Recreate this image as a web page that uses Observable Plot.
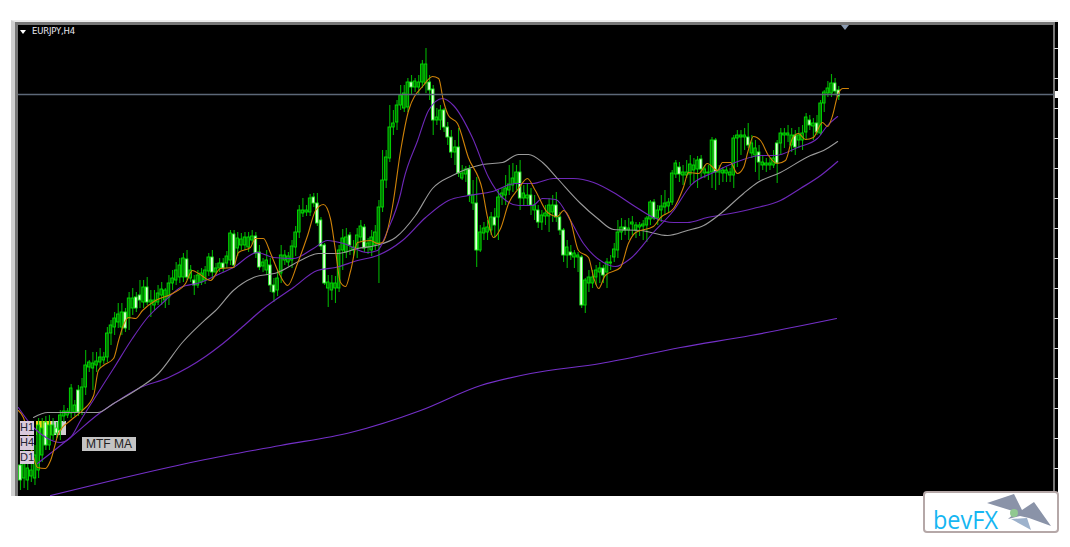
<!DOCTYPE html>
<html><head><meta charset="utf-8">
<script src="https://cdn.jsdelivr.net/npm/d3@7"></script>
<script src="https://cdn.jsdelivr.net/npm/@observablehq/plot@0.6"></script>
<style>
html,body{margin:0;padding:0;background:#fff;width:1070px;height:547px;overflow:hidden}
#page{position:relative;width:1070px;height:547px;font-family:"Liberation Sans",sans-serif}
#page>div,#page>svg{position:absolute}
#chart{left:0;top:0;z-index:3}
#chart svg{background:transparent;display:block}
#edge{left:11px;top:20px;width:1047px;height:476px;background:#000;box-sizing:border-box;
 border-left:4px solid #d0d0d0;border-top:2px solid #ececec}
#inner{left:15px;top:22px;width:1040px;height:474px;box-sizing:border-box;border-left:3px solid #777;border-top:3px solid #777;border-right:2px solid #777;z-index:1}
.lab{z-index:4;background:#d9c9dc;color:#223;font-size:11px;line-height:13px;text-align:center;width:14px;box-sizing:border-box;left:20px}
#yel{left:36px;top:421px;width:15px;height:14px;background:#f2d21a;z-index:2}
#gry{left:51px;top:421px;width:15px;height:14px;background:#cfcfcf;z-index:2}
#mtf{left:82px;top:437px;width:54px;height:14px;background:#c4c4c4;color:#222;font-size:12px;line-height:14px;text-align:center;z-index:4}
#sym{left:32px;top:26px;color:#e8e8f0;font-size:8.5px;line-height:11px;font-family:"DejaVu Sans",sans-serif;letter-spacing:-.2px;z-index:4}
#tri{left:20px;top:30px;width:0;height:0;border-left:3.5px solid transparent;border-right:3.5px solid transparent;border-top:4px solid #fff;z-index:4}
#shift{left:841px;top:25px;width:0;height:0;border-left:4.5px solid transparent;border-right:4.5px solid transparent;border-top:5px solid #8a9ab0;z-index:4}
#mark{left:1055px;top:91px;width:3px;height:7px;background:#fff;z-index:4}
#logo{left:920px;top:488px;z-index:5}
</style></head><body>
<div id="page">
<div id="edge"></div><div id="inner"></div>
<div class="lab" style="top:421px;height:14px">H1</div>
<div class="lab" style="top:436px;height:14px">H4</div>
<div class="lab" style="top:451px;height:13px">D1</div>
<div id="yel"></div><div id="gry"></div>
<div id="mtf">MTF MA</div>
<div id="tri"></div><div id="sym">EURJPY,H4</div>
<div id="shift"></div><div id="mark"></div>
<div id="chart"></div>
<svg id="logo" width="142" height="48" viewBox="0 0 142 48">
<rect x="4" y="4" width="134" height="40" rx="3" fill="#fff" stroke="#b5a8a8" stroke-width="2"/>
<text x="13" y="41" font-family="Open Sans, sans-serif" font-size="25" fill="#16b6f2" textLength="65" lengthAdjust="spacingAndGlyphs">bevFX</text>
<path d="M67 15 L94 6 L102 22 L114 14 L131 38 L109 30 L100 28 L88 31 L96 24 Z" fill="#8a93a8"/>
<path d="M91 31 L107 30 L111 42 Z" fill="#9db2cc"/>
<circle cx="94" cy="25" r="4" fill="#90c890"/>
</svg>
</div>
<script>
// Candles, in chart points above the chart floor (one bar per 4 hours)
const bodyHigh=[35,38,32,30,45,75,72,78,75,75,72,85,89,89,112,95,110,113,135,138,137,139,143,143,167,175,182,186,188,188,202,202,203,205,213,213,200,200,207,211,210,217,222,230,235,242,241,230,220,225,227,230,243,243,232,237,237,244,267,266,262,261,263,263,264,264,248,238,240,235,215,222,245,245,244,254,268,290,290,290,302,303,297,280,255,218,217,217,250,262,263,265,253,265,274,273,257,263,268,293,320,343,373,377,395,405,407,418,418,419,418,436,436,418,411,383,390,390,373,363,353,353,327,331,331,305,297,268,272,273,283,283,303,307,312,316,322,328,328,307,305,305,295,290,285,287,295,295,295,283,270,253,248,247,245,243,220,223,223,230,232,232,238,238,251,268,273,273,272,278,275,275,276,282,298,298,290,294,297,298,327,337,333,328,328,336,335,340,341,331,328,360,360,330,330,330,328,362,365,365,365,363,357,352,348,338,337,337,342,357,367,367,367,365,365,365,367,383,380,377,377,397,408,412,417,417,410];
const bodyLow=[20,22,20,24,22,30,45,55,55,65,67,70,84,85,87,88,88,90,113,133,132,135,138,140,143,167,173,178,173,172,182,192,192,200,198,198,198,195,198,205,200,203,217,220,223,223,223,222,215,215,218,220,229,228,228,232,232,237,240,235,252,255,255,253,260,247,233,234,230,215,208,210,227,240,238,240,253,268,287,288,288,297,277,254,217,212,210,212,212,250,248,255,250,252,263,252,253,250,255,257,293,320,342,373,378,395,392,393,413,413,413,418,417,410,380,380,380,373,363,348,348,327,322,326,305,297,250,250,267,268,270,275,283,303,305,310,315,317,302,302,302,295,290,278,278,284,284,288,283,270,245,245,245,243,243,195,195,217,217,223,228,225,228,237,243,250,268,270,270,276,270,273,274,275,281,282,282,290,293,294,298,326,326,325,325,326,330,331,331,327,327,328,328,328,327,327,325,325,362,363,363,355,347,345,338,335,335,335,335,337,357,365,365,355,353,360,360,368,375,374,368,367,397,407,407,409,404];
const high=[45,55,42,50,55,82,82,84,85,82,78,90,95,92,116,100,115,122,150,140,148,148,152,148,173,180,188,197,197,192,208,212,208,220,220,223,210,210,215,218,212,225,230,238,242,247,250,235,225,230,232,234,247,250,237,242,242,249,270,270,268,267,268,268,270,268,255,242,250,242,222,230,255,250,248,260,274,295,302,295,306,307,307,283,257,225,225,224,255,271,272,268,260,272,280,276,262,270,275,300,350,350,395,390,400,415,415,422,425,422,425,440,452,425,415,392,395,392,378,370,360,372,335,334,335,320,323,275,278,280,288,292,310,312,325,335,337,335,340,315,317,312,305,295,290,295,302,305,308,288,272,260,255,250,248,245,222,230,230,235,238,235,242,245,257,280,282,280,282,284,278,278,280,284,300,301,295,305,310,302,330,340,338,335,340,345,342,344,345,335,335,363,362,335,333,333,332,365,370,370,372,377,365,360,355,345,342,342,350,360,372,372,375,372,370,373,375,387,385,382,385,400,410,419,426,422,414];
const low=[10,12,10,18,15,22,38,50,50,60,62,60,78,82,82,84,84,85,105,128,110,128,132,136,138,155,165,172,165,168,170,185,188,192,192,195,183,190,195,195,192,195,210,215,217,218,220,218,205,212,215,216,224,220,225,228,228,232,235,232,244,250,250,248,256,242,230,228,225,208,198,204,217,235,234,232,244,262,283,284,284,293,274,250,215,193,200,197,208,230,242,245,244,242,258,248,246,244,250,217,288,312,338,365,370,390,388,388,405,408,405,412,407,400,365,375,370,368,355,342,335,323,320,318,298,290,233,248,260,260,265,262,260,295,295,305,308,310,290,295,295,285,280,272,270,275,268,278,278,265,238,232,240,232,228,192,187,208,212,215,217,217,212,230,238,242,260,265,260,265,262,264,260,258,275,280,275,278,285,288,295,322,318,315,322,315,318,312,322,322,320,312,310,315,318,318,318,312,333,345,350,352,342,328,320,330,328,330,332,317,345,352,358,348,345,352,350,360,370,360,365,365,388,403,403,405,400];
const bearBars=[0,7,10,16,29,32,33,35,46,48,53,56,59,65,66,69,70,81,82,83,84,91,95,108,113,114,117,118,119,121,124,126,131,138,141,143,148,149,150,152,155,161,167,175,182,188,192,201,204,209,214,218,220,225,226];

// Moving averages: bar positions and levels
const orangeBar=[-0.6,0.8,2.8,4.7,6.9,8.3,10.5,13.8,17.1,20.2,21.5,22.9,25.7,27.1,28.4,29.8,31.8,33.7,37.3,42,45.6,47.5,49.2,52.5,55.2,58.8,60.2,63.5,64.9,67.1,69.1,71.3,73.8,76.5,79.3,81.5,83.7,85.6,87,88.4,89.8,91.2,93.1,96.7,98.6,100,102.7,105,107.2,111.3,113.8,115.5,116.8,118.2,120.7,123.7,127.6,129,130.6,132.6,134.8,137.6,140,142.2,145.6,148.3,150,151.9,154.1,156.9,158.3,159.7,161.5,165.7,167.9,169.9,174.8,176.8,180.4,183.1,184.5,187.3,189.7,192.5,193.9,196.1,198,199.7,201,202.4,204.4,206.6,209,211.3,213.2,214.9,216.8,219,221.5,222.9,224.3,225.7,227.1,228.7];
const orangeLevel=[90,83,55,33,32,40,67,80,90,105,130,135,142,160,175,183,182,190,200,207,217,230,227,220,232,233,248,253,262,262,247,228,215,237,265,290,296,282,250,218,214,230,258,260,257,258,293,350,390,415,424,422,400,385,377,343,310,283,263,272,297,312,322,310,288,284,290,280,250,243,223,212,225,233,257,268,274,283,292,313,328,327,337,330,338,338,327,333,350,364,360,345,337,340,362,367,361,363,378,374,385,405,412,412];
const fastBar=[-0.6,3.6,7.5,11,13.8,16.6,21.3,25.7,30.9,35.1,40,44.2,49.7,55.2,58.8,65.4,69.9,75.4,80.9,84.8,89.2,95.8,98.6,101.4,105,105.8,109.7,112.7,116.6,119.6,124.8,129.3,133.1,137.6,141.4,144.2,147.8,151.9,155.5,161,164.3,168.5,174.8,180.4,185.1,191.4,198.9,204.4,208.5,214.6,220.1,222.9,225.7];
const fastLevel=[93,73,62,58,63,80,107,132,162,183,200,213,218,227,233,248,243,242,252,260,257,248,250,270,307,320,360,390,402,395,363,323,303,295,295,302,301,280,257,238,234,242,268,290,315,328,340,345,345,353,362,375,384];
const grayBar=[3.6,7.5,11,21.3,25.7,32.6,38.1,44.7,51.1,53.9,58.8,64.4,71,77.3,82.3,87.6,93.1,98.1,103.6,109.1,113.8,119.3,123.7,127.6,133.1,137.6,140.3,144.2,148.3,154.7,159.4,163.8,171.3,178.7,184.2,188.7,193.4,199.7,203.6,209.9,218.2,221.8,225.7];
const grayLevel=[83,88,88,88,97,112,127,158,181,190,210,223,228,240,247,247,252,255,263,285,312,325,332,336,338,346,346,338,322,297,282,271,270,265,270,275,287,307,318,328,345,350,359];
const slowBar=[4.7,13.8,22.1,26.2,32.6,40.9,51.1,55.2,60.8,66.8,75.4,82,87,93.1,98.6,105.5,111.9,118.2,123.7,130.4,136.7,141.4,147.2,152.7,158.3,163.8,169.3,174.8,180.4,184.2,189.7,196.1,202.4,209.9,215.4,221,225.7];
const slowLevel=[37,63,88,98,112,123,144,155,172,191,213,230,233,240,245,260,283,300,305,309,317,317,322,322,318,308,295,283,278,278,283,287,292,300,312,325,339];
const longBar=[8.3,27.6,49.7,71.8,91.2,110.5,127.1,140.9,160.2,182.3,201.7,225.4];
const longLevel=[5,22,40,55,68,90,115,127,137,153,165,182];
const priceLine=[406];
const gridLevels=[452,422,392,362,332,302,272,242,212,182,152,122,92,62,32];

const bars=high.map((h,i)=>{const bear=bearBars.includes(i);return {i,high:h,low:low[i],open:bear?bodyHigh[i]:bodyLow[i],close:bear?bodyLow[i]:bodyHigh[i],bear};});
const series=(b,v)=>b.map((x,k)=>({x,y:v[k]}));
const line=(b,v,stroke,strokeWidth=1.1)=>Plot.line(series(b,v),{x:"x",y:"y",stroke,strokeWidth,curve:"monotone-x",clip:true});

const plot=Plot.plot({
  width:1070,height:547,marginLeft:18,marginRight:12,marginTop:25,marginBottom:51,
  style:{background:"transparent",overflow:"visible"},
  x:{domain:[-0.55,286.7],axis:null},
  y:{domain:[4,475],axis:null},
  marks:[
    Plot.ruleX(bars,{x:"i",y1:"low",y2:"high",stroke:"#00b000",strokeWidth:1.1}),
    Plot.rect(bars,{x1:d=>d.i-0.36,x2:d=>d.i+0.36,y1:"open",y2:"close",fill:d=>d.bear?"#e8ffe0":"#007000",stroke:d=>d.bear?"#22f022":"#00e000",strokeWidth:0.9}),
    line(longBar,longLevel,"#7430c8",1.2),
    line(slowBar,slowLevel,"#6e28b8",1.2),
    line(grayBar,grayLevel,"#9a9a9a",1.1),
    line(fastBar,fastLevel,"#6e28b8",1.1),
    line(orangeBar,orangeLevel,"#cf8208",1.1),
    Plot.ruleY(priceLine,{x1:-0.55,x2:285.6,stroke:"#5c6878",strokeWidth:1.3}),
    Plot.ruleY(gridLevels,{x1:285.7,x2:286.7,stroke:"#e8e8e8",strokeWidth:1})
  ]
});
document.getElementById("chart").appendChild(plot);
</script>
</body></html>
